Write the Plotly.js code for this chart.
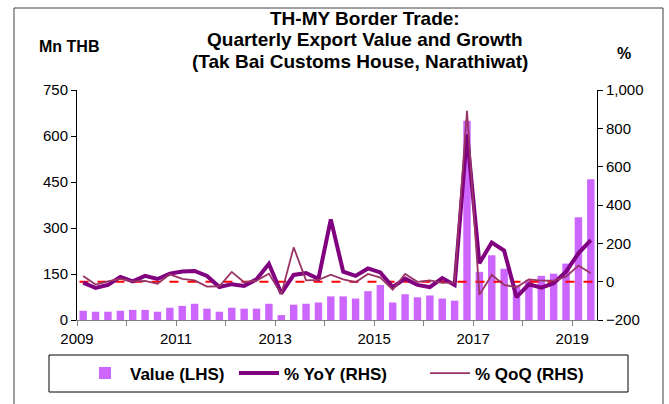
<!DOCTYPE html>
<html>
<head>
<meta charset="utf-8">
<script src="https://cdn.plot.ly/plotly-3.0.1.min.js"></script>
<style>html,body{margin:0;padding:0;background:#fff;}#chart{width:669px;height:404px;}</style>
</head>
<body>
<div id="chart"></div>
<script>
// Quarters 2009Q1 .. 2019Q2
const quarters = ["2009Q1","2009Q2","2009Q3","2009Q4","2010Q1","2010Q2","2010Q3","2010Q4",
"2011Q1","2011Q2","2011Q3","2011Q4","2012Q1","2012Q2","2012Q3","2012Q4",
"2013Q1","2013Q2","2013Q3","2013Q4","2014Q1","2014Q2","2014Q3","2014Q4",
"2015Q1","2015Q2","2015Q3","2015Q4","2016Q1","2016Q2","2016Q3","2016Q4",
"2017Q1","2017Q2","2017Q3","2017Q4","2018Q1","2018Q2","2018Q3","2018Q4",
"2019Q1","2019Q2"];
// Export value, Mn THB (LHS)
const value = [30,27,27,30,33,33,27,40,46,53,37,27,40,37,37,53,
16,50,53,57,77,77,70,94,114,57,84,74,80,70,63,650,
157,211,167,114,131,144,151,184,335,459];
// % YoY (RHS)
const yoy = [-5,-33,-17,25,2,30,14,42,53,56,30,-28,-13,-22,12,93,
-61,35,45,15,325,52,30,69,48,-28,16,-17,-29,19,-17,770,
96,204,162,-81,-14,-31,-8,52,148,217];
// % QoQ (RHS)
const qoq = [30,-15,2,15,2,4,-11,38,15,7,-26,-24,51,-3,5,42,
-65,179,7,9,36,12,-3,40,21,-42,40,-1,7,-6,-5,892,
-69,35,-17,-29,12,5,5,26,84,44];
const yearTicks = [2009,2010,2011,2012,2013,2014,2015,2016,2017,2018,2019];
const yearLabels = ["2009","","2011","","2013","","2015","","2017","","2019"];
const titleLines = ["TH-MY Border Trade:","Quarterly Export Value and Growth","(Tak Bai Customs House, Narathiwat)"];

const xq = quarters.map(s => parseInt(s.slice(0,4)) + (parseInt(s.slice(5)) - 0.5) / 4);
const FONT = "Liberation Sans, Arial, sans-serif";

// pixel -> paper helpers (plot area: x 77..597, y 90..320)
const px = v => (v - 77) / 520;
const py = v => (320 - v) / 230;

const traces = [
  {type:"bar", x:xq, y:value, name:"Value (LHS)", marker:{color:"#CC66FF"}, width:0.15, yaxis:"y", legend:"legend"},
  {type:"scatter", mode:"lines", x:[2009.05,2019.5], y:[0,0], yaxis:"y2", showlegend:false, hoverinfo:"skip",
   line:{color:"#FF0000", width:2, dash:"dash"}},
  {type:"scatter", mode:"lines", x:xq, y:yoy, name:"% YoY (RHS)", yaxis:"y2", line:{color:"#800080", width:4}, legend:"legend2"},
  {type:"scatter", mode:"lines", x:xq, y:qoq, name:"% QoQ (RHS)", yaxis:"y2", line:{color:"#993366", width:1.8}, legend:"legend3"}
];

const legBase = {orientation:"h", xanchor:"left", yanchor:"middle", y:py(373.5), bgcolor:"rgba(0,0,0,0)", borderwidth:0,
  font:{family:FONT, size:17, color:"#000", weight:"bold"}, itemwidth:40};

const layout = {
  width:669, height:404,
  margin:{l:77, r:72, t:90, b:84, autoexpand:false},
  paper_bgcolor:"#fff", plot_bgcolor:"#fff",
  font:{family:FONT, size:15, color:"#000"},
  showlegend:true,
  xaxis:{range:[2009,2019.5], tickvals:yearTicks, ticktext:yearLabels, ticks:"outside", ticklen:5,
         tickcolor:"#808080", showline:true, linecolor:"#808080", linewidth:1, showgrid:false, zeroline:false,
         tickfont:{size:15}},
  yaxis:{range:[0,750], dtick:150, tick0:0, ticks:"outside", ticklen:5, tickcolor:"#000",
         showline:true, linecolor:"#000", linewidth:1, showgrid:false, zeroline:false, tickfont:{size:15}},
  yaxis2:{range:[-200,1000], dtick:200, tick0:0, overlaying:"y", side:"right", tickformat:",d",
          ticks:"outside", ticklen:5, tickcolor:"#000", showline:true, linecolor:"#000", linewidth:1,
          showgrid:false, zeroline:false, tickfont:{size:15}},
  legend:Object.assign({}, legBase, {x:px(80)}),
  legend2:Object.assign({}, legBase, {x:px(234)}),
  legend3:Object.assign({}, legBase, {x:px(425)}),
  annotations:[
    {text:"<b>"+titleLines[0]+"</b>", xref:"paper", yref:"paper", x:px(365), y:py(18), xanchor:"center", yanchor:"middle", showarrow:false, font:{family:FONT, size:19}},
    {text:"<b>"+titleLines[1]+"</b>", xref:"paper", yref:"paper", x:px(365), y:py(40), xanchor:"center", yanchor:"middle", showarrow:false, font:{family:FONT, size:19}},
    {text:"<b>"+titleLines[2]+"</b>", xref:"paper", yref:"paper", x:px(360), y:py(61), xanchor:"center", yanchor:"middle", showarrow:false, font:{family:FONT, size:19}},
    {text:"<b>Mn THB</b>", xref:"paper", yref:"paper", x:px(69), y:py(46),
     xanchor:"center", yanchor:"middle", showarrow:false, font:{family:FONT, size:16}},
    {text:"<b>%</b>", xref:"paper", yref:"paper", x:px(624), y:py(53),
     xanchor:"center", yanchor:"middle", showarrow:false, font:{family:FONT, size:16}}
  ],
  shapes:[
    {type:"rect", xref:"paper", yref:"paper", x0:px(14), x1:px(663), y0:py(420), y1:py(8),
     line:{color:"#404040", width:1}, fillcolor:"rgba(0,0,0,0)", layer:"below"},
    {type:"rect", xref:"paper", yref:"paper", x0:px(49), x1:px(628), y0:py(392), y1:py(355),
     line:{color:"#000", width:1}, fillcolor:"rgba(0,0,0,0)", layer:"below"}
  ]
};

Plotly.newPlot("chart", traces, layout, {displayModeBar:false, staticPlot:true});
</script>
</body>
</html>
